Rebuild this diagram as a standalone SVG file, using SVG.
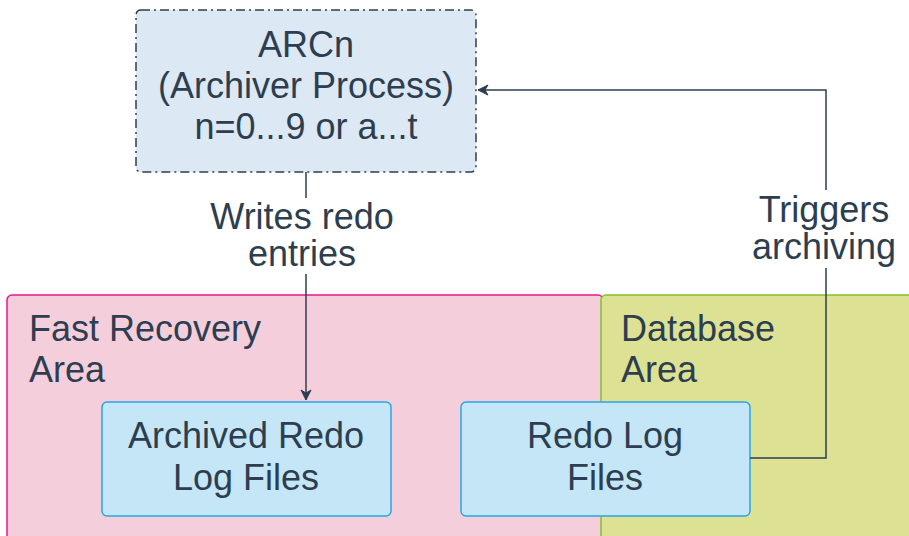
<svg xmlns="http://www.w3.org/2000/svg" width="909" height="536" viewBox="0 0 909 536">
<style>
text{font-family:"Liberation Sans",Arial,sans-serif;font-size:36px;fill:#2d3e50}
.c{text-anchor:middle}
.file{fill:#c5e6f6;stroke:#29a7df;stroke-width:1.5}
.conn{fill:none;stroke:#2d3e50;stroke-width:1.5}
</style>
<defs>
<marker id="arr" viewBox="0 0 12 12" refX="11" refY="6" markerWidth="12" markerHeight="12" markerUnits="userSpaceOnUse" orient="auto">
<path d="M1,1 L11,6 L1,11 L4,6 Z" fill="#2d3e50" stroke="#2d3e50" stroke-width="1"/>
</marker>
</defs>
<rect width="909" height="536" fill="#ffffff"/>
<g id="fra">
<rect x="7" y="295" width="596" height="260" rx="5" fill="#f5cedc" stroke="#e7198a" stroke-width="1.5"/>
<text x="29" y="341">Fast Recovery</text>
<text x="29" y="382">Area</text>
</g>
<g id="dba">
<rect x="601" y="295" width="330" height="260" rx="5" fill="#dde193" stroke="#88bd2e" stroke-width="1.5"/>
<text x="621" y="341">Database</text>
<text x="621" y="382">Area</text>
</g>
<g id="arcn">
<rect x="136" y="10" width="340" height="162" rx="5" fill="#dce8f4" stroke="#2d3e50" stroke-width="1.5" stroke-dasharray="9 4 2 4"/>
<text class="c" x="306" y="57">ARCn</text>
<text class="c" x="306" y="98">(Archiver Process)</text>
<text class="c" x="306" y="139">n=0...9 or a...t</text>
</g>
<g id="archived">
<rect class="file" x="102" y="402" width="289" height="114" rx="5"/>
<text class="c" x="246" y="448">Archived Redo</text>
<text class="c" x="246" y="490">Log Files</text>
</g>
<g id="redolog">
<rect class="file" x="461" y="402" width="289" height="114" rx="5"/>
<text class="c" x="605" y="448">Redo Log</text>
<text class="c" x="605" y="490">Files</text>
</g>
<g id="connectors">
<path class="conn" d="M306,172 V400" marker-end="url(#arr)"/>
<rect x="206" y="198" width="192" height="76" fill="#ffffff"/>
<text class="c" x="302" y="229">Writes redo</text>
<text class="c" x="302" y="266">entries</text>
<path class="conn" d="M750,458 H826 V90 H478" marker-end="url(#arr)"/>
<rect x="750" y="190" width="152" height="78" fill="#ffffff"/>
<text class="c" x="824" y="222">Triggers</text>
<text class="c" x="824" y="259">archiving</text>
</g>
</svg>
